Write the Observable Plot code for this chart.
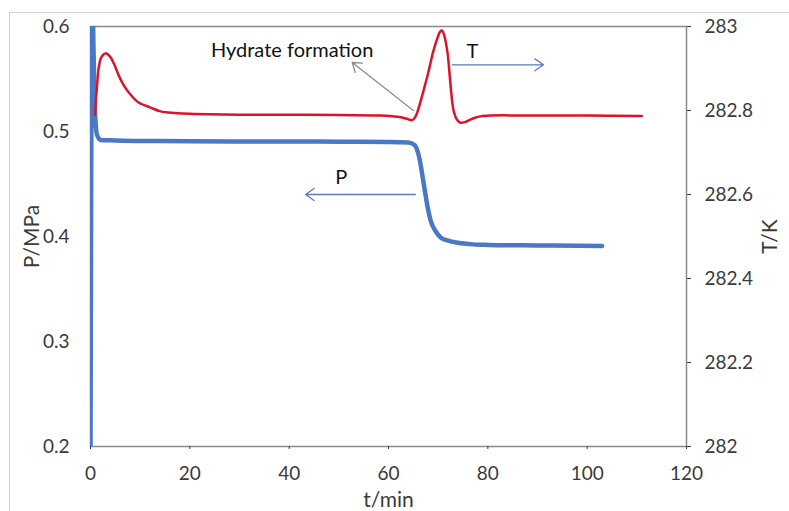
<!DOCTYPE html>
<html>
<head>
<meta charset="utf-8">
<script src="https://cdn.jsdelivr.net/npm/d3@7"></script>
<script src="https://cdn.jsdelivr.net/npm/@observablehq/plot@0.6"></script>
<style>
  html, body { margin: 0; padding: 0; background: #fff; overflow: hidden; }
  #wrap { position: relative; width: 789px; height: 511px; }
  #border { position: absolute; left: 9px; top: 12px; width: 800px; height: 520px; border: 1px solid #d4d4d4; box-sizing: border-box; }
  #chart { position: absolute; left: 0; top: 0; }
  svg { font-family: Lato, "Open Sans", sans-serif; }
</style>
</head>
<body>
<div id="wrap"><div id="border"></div><div id="chart"></div></div>
<script>
// Pressure series (blue, left axis)
const pTime  = [0, 0.35, 0.6, 0.9, 1.3, 2, 5, 10, 20, 30, 40, 50, 60, 64, 65.3, 66.2, 67, 67.8, 68.5, 69.5, 70.5, 72, 74, 77, 80, 90, 103];
const pValue = [0.19, 0.65, 0.58, 0.52, 0.497, 0.492, 0.4915, 0.491, 0.4908, 0.4905, 0.4905, 0.4903, 0.490, 0.4895, 0.487, 0.475, 0.453, 0.43, 0.415, 0.405, 0.399, 0.396, 0.394, 0.3925, 0.392, 0.3915, 0.391];
// Temperature series (red, right axis)
const tTime  = [0.9, 1.35, 1.67, 2.15, 3.0, 3.9, 4.7, 5.7, 6.7, 8.05, 9.7, 12.1, 14.1, 17, 20, 30, 40, 50, 58.4, 61.8, 63.5, 64.8, 65.4, 66, 67, 68, 69, 69.9, 70.4, 70.8, 71.3, 71.9, 72.5, 73.1, 73.8, 74.5, 75.5, 77, 78.5, 80.5, 90, 100, 111];
const tValue = [282.79, 282.864, 282.903, 282.926, 282.936, 282.929, 282.912, 282.883, 282.86, 282.838, 282.819, 282.807, 282.798, 282.794, 282.792, 282.79, 282.79, 282.789, 282.788, 282.785, 282.781, 282.777, 282.785, 282.803, 282.845, 282.89, 282.94, 282.974, 282.988, 282.99, 282.975, 282.936, 282.86, 282.8, 282.778, 282.771, 282.773, 282.781, 282.786, 282.788, 282.788, 282.788, 282.787];
// Axis ticks
const xTicks = [0, 20, 40, 60, 80, 100, 120];
const pTicks = [0.2, 0.3, 0.4, 0.5, 0.6];
const tTicks = [282, 282.2, 282.4, 282.6, 282.8, 283];
// Annotations
const noteText = ["Hydrate formation", "T", "P"];
const noteTime = [40.6, 76.9, 50.5];
const noteP    = [0.577, 0.576, 0.456];
const arrowFromTime = [65.0, 72.8, 65.4];
const arrowFromP    = [0.52, 0.5635, 0.44];
const arrowToTime   = [52.7, 91.2, 43.3];
const arrowToP      = [0.5657, 0.5635, 0.44];
const arrowColor    = ["#8c8c8c", "#5b7bb8", "#5b7bb8"];

// map T onto the P scale (secondary axis)
const T0 = 282, T1 = 283, P0 = 0.2, P1 = 0.6;
const tToP = t => P0 + (t - T0) / (T1 - T0) * (P1 - P0);

const pData = pTime.map((t, i) => ({t, v: pValue[i]}));
const tData = tTime.map((t, i) => ({t, v: tToP(tValue[i])}));
const notes = noteText.map((s, i) => ({s, t: noteTime[i], p: noteP[i]}));
const arrows = arrowFromTime.map((t, i) => ({x1: t, y1: arrowFromP[i], x2: arrowToTime[i], y2: arrowToP[i], c: arrowColor[i]}));

const chart = Plot.plot({
  width: 789,
  height: 511,
  marginLeft: 90,
  marginRight: 103,
  marginTop: 26,
  marginBottom: 65,
  style: {fontFamily: "Lato, 'Open Sans', sans-serif", fontSize: "19px", color: "#3a3a3a", background: "transparent"},
  x: {domain: [0, 120]},
  y: {domain: [P0, P1]},
  marks: [
    Plot.frame({stroke: "#8a8a8a", strokeWidth: 1.5}),
    Plot.axisX({ticks: xTicks, tickSize: 3, tickPadding: 17, tickFormat: d => d, fontSize: 19}),
    Plot.axisX({ticks: [], label: "t/min", labelAnchor: "center", labelOffset: 60, labelArrow: "none", fontSize: 21}),
    Plot.axisY({ticks: pTicks, tickSize: 0, tickPadding: 21, tickFormat: d => d, fontSize: 19}),
    Plot.axisY({ticks: [], label: "P/MPa", labelAnchor: "center", labelOffset: 66, labelArrow: "none", fontSize: 21}),
    Plot.axisY({anchor: "right", ticks: tTicks.map(tToP), tickSize: 4, tickPadding: 14, fontSize: 19,
      tickFormat: (d) => String(Math.round((T0 + (d - P0) / (P1 - P0) * (T1 - T0)) * 10) / 10)}),
    Plot.axisY({anchor: "right", ticks: [], label: "T/K", labelAnchor: "center", labelOffset: 90, labelArrow: "none", fontSize: 21}),
    Plot.line(pData, {x: "t", y: "v", stroke: "#4a78c4", strokeWidth: 4.5, curve: "monotone-x", clip: true}),
    Plot.line(tData, {x: "t", y: "v", stroke: "#d9142b", strokeWidth: 2.5, curve: "catmull-rom", clip: true}),
    Plot.arrow(arrows, {x1: "x1", y1: "y1", x2: "x2", y2: "y2", stroke: "c", strokeWidth: 1.3, headLength: 12, headAngle: 70, bend: false}),
    Plot.text(notes, {x: "t", y: "p", text: "s", fontSize: 20, fill: "#111"})
  ]
});
document.getElementById("chart").appendChild(chart);
</script>
</body>
</html>
